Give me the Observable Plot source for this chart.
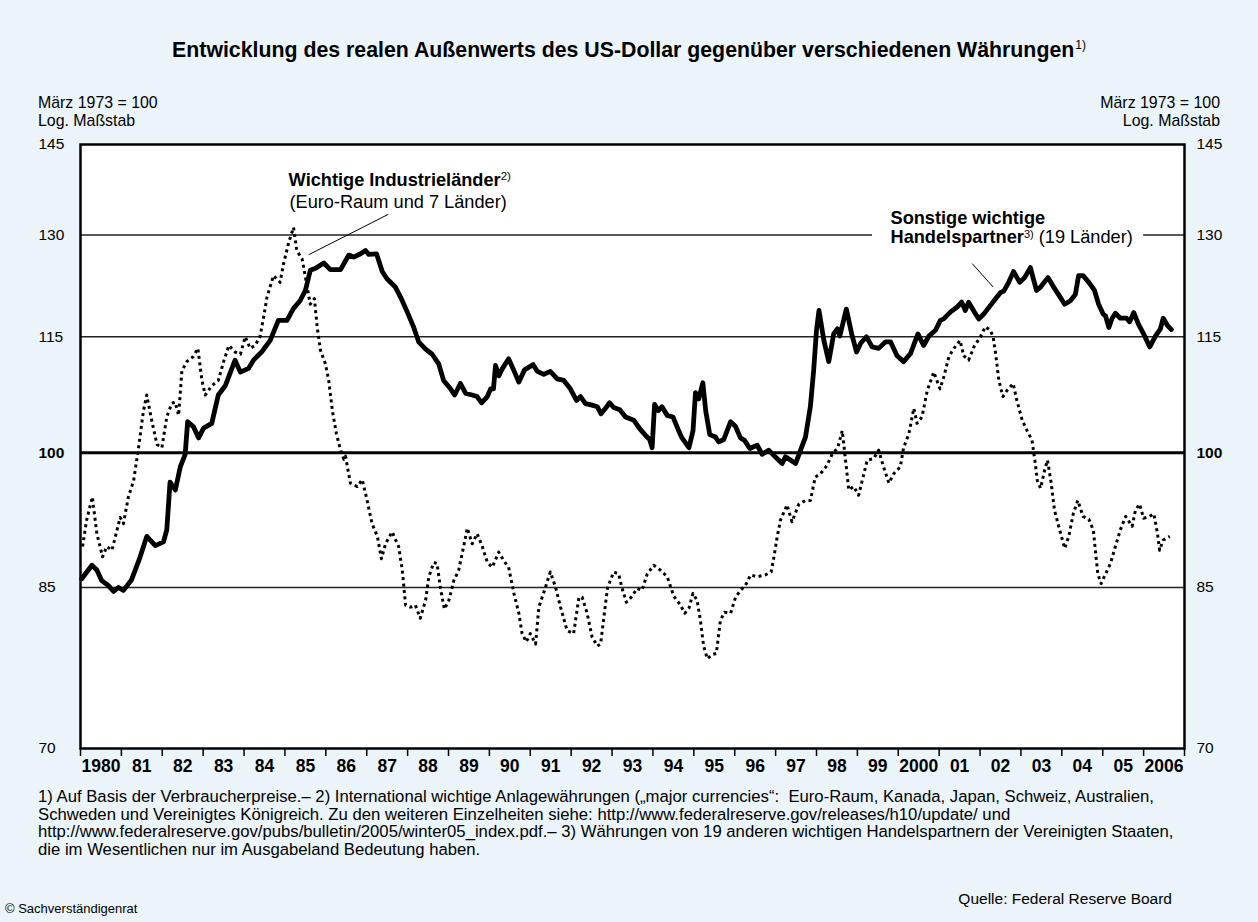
<!DOCTYPE html>
<html><head><meta charset="utf-8">
<script src="https://cdn.jsdelivr.net/npm/d3@7"></script>
<script src="https://cdn.jsdelivr.net/npm/@observablehq/plot@0.6"></script>
<style>
html,body{margin:0;padding:0;background:#EBF4F8;}
body{width:1258px;height:922px;position:relative;overflow:hidden;font-family:"Liberation Sans",Arial,Helvetica,sans-serif;color:#000;}
#title{position:absolute;left:0;width:1258px;top:37px;text-align:center;font-weight:bold;font-size:21.3px;line-height:26px;}
#title sup{font-size:12px;font-weight:normal;vertical-align:top;position:relative;top:-5px;margin-left:1px;}
.unit{position:absolute;top:94px;font-size:15.9px;line-height:18px;}
#unitL{left:38px;}
#unitR{right:38px;text-align:right;}
#chart{position:absolute;left:0;top:80px;}
#notes{position:absolute;left:38px;top:788px;width:1210px;font-size:16.7px;line-height:17.7px;white-space:nowrap;}
#source{position:absolute;right:86px;top:890px;font-size:15.5px;}
#copy{position:absolute;left:5px;top:901px;font-size:13px;}
</style></head>
<body>
<div id="title">Entwicklung des realen Außenwerts des US-Dollar gegenüber verschiedenen Währungen<sup>1)</sup></div>
<div class="unit" id="unitL">März 1973 = 100<br>Log. Maßstab</div>
<div class="unit" id="unitR">März 1973 = 100<br>Log. Maßstab</div>
<div id="chart"></div>
<div id="notes">1) Auf Basis der Verbraucherpreise.– 2) International wichtige Anlagewährungen („major currencies“:&nbsp; Euro-Raum, Kanada, Japan, Schweiz, Australien,<br>Schweden und Vereinigtes Königreich. Zu den weiteren Einzelheiten siehe: http://www.federalreserve.gov/releases/h10/update/ und<br>http://www.federalreserve.gov/pubs/bulletin/2005/winter05_index.pdf.– 3) Währungen von 19 anderen wichtigen Handelspartnern der Vereinigten Staaten,<br>die im Wesentlichen nur im Ausgabeland Bedeutung haben.</div>
<div id="source">Quelle: Federal Reserve Board</div>
<div id="copy">© Sachverständigenrat</div>
<script>
// y-axis tick values (log scale) and gridlines
const yTickValues = [145, 130, 115, 100, 85, 70];
const gridThin = [130, 115, 85];
const gridBold = [100];
// x-axis: year boundaries and labels
const yearTicks = d3.range(1980, 2008);
const yearLabels = ["1980","81","82","83","84","85","86","87","88","89","90","91","92","93","94","95","96","97","98","99","2000","01","02","03","04","05","2006"];

// Wichtige Industrieländer (dotted) [decimal year, index]
const industrieLaender = [
[1980.05,89.3],[1980.15,92.2],[1980.29,94.8],[1980.40,90.7],[1980.54,88.2],[1980.64,89.3],[1980.77,88.9],[1980.97,92.5],
[1981.05,91.8],[1981.17,94.8],[1981.30,96.7],[1981.42,100.6],[1981.54,105.2],[1981.62,107.2],[1981.74,104.0],[1981.87,101.0],[1981.99,100.6],
[1982.11,104.4],[1982.23,106.1],[1982.31,106.3],[1982.40,104.6],[1982.48,110.4],[1982.60,111.6],[1982.76,112.3],[1982.87,113.4],[1982.97,109.1],
[1983.05,107.2],[1983.21,108.4],[1983.37,109.1],[1983.50,111.6],[1983.63,113.8],[1983.78,112.9],[1983.91,112.6],
[1984.03,115.0],[1984.15,113.4],[1984.27,113.8],[1984.39,115.0],[1984.48,117.8],[1984.56,120.6],[1984.72,123.8],[1984.88,122.8],[1984.96,125.4],
[1985.09,128.8],[1985.21,131.2],[1985.29,127.6],[1985.42,126.3],[1985.50,123.6],[1985.62,119.6],[1985.72,120.4],[1985.79,116.3],[1985.87,113.1],[1985.99,111.3],
[1986.07,109.1],[1986.16,105.2],[1986.26,102.3],[1986.36,100.3],[1986.44,99.2],[1986.48,99.6],[1986.60,96.4],[1986.77,96.0],[1986.89,96.8],
[1987.01,94.4],[1987.13,91.8],[1987.26,90.4],[1987.36,88.0],[1987.46,89.6],[1987.62,90.9],[1987.78,89.3],[1987.87,86.8],[1987.95,83.2],
[1988.07,83.0],[1988.19,83.2],[1988.31,81.9],[1988.44,83.7],[1988.52,86.1],[1988.64,87.6],[1988.72,87.5],[1988.80,85.0],[1988.90,82.8],
[1989.01,83.7],[1989.13,85.7],[1989.25,86.8],[1989.37,89.3],[1989.46,91.3],[1989.58,89.6],[1989.70,90.7],[1989.82,89.4],[1989.95,87.6],
[1990.07,87.1],[1990.23,88.7],[1990.35,87.8],[1990.47,87.1],[1990.60,84.4],[1990.72,82.4],[1990.80,80.4],[1990.90,79.6],
[1991.00,80.4],[1991.13,79.4],[1991.21,83.0],[1991.37,85.0],[1991.49,86.6],[1991.62,85.0],[1991.74,83.0],[1991.90,80.7],
[1992.06,80.4],[1992.19,84.0],[1992.27,84.0],[1992.39,82.4],[1992.51,80.1],[1992.64,79.2],[1992.72,79.4],[1992.80,82.0],[1992.89,85.0],
[1993.04,86.6],[1993.16,86.4],[1993.24,85.0],[1993.35,83.5],[1993.49,84.1],[1993.61,84.9],[1993.73,84.7],[1993.86,86.4],
[1994.02,87.3],[1994.18,86.8],[1994.35,86.1],[1994.51,84.1],[1994.66,83.3],[1994.78,82.4],[1994.88,82.9],[1994.98,84.4],
[1995.08,83.7],[1995.16,81.7],[1995.24,79.2],[1995.33,78.0],[1995.45,78.4],[1995.55,78.5],[1995.65,81.7],[1995.75,82.5],[1995.90,82.4],
[1996.02,84.0],[1996.14,84.7],[1996.26,85.2],[1996.39,86.3],[1996.55,86.1],[1996.75,86.3],[1996.89,86.6],[1996.96,88.2],
[1997.04,90.4],[1997.12,92.2],[1997.28,93.9],[1997.40,92.0],[1997.57,94.0],[1997.73,94.4],[1997.85,94.4],[1997.97,97.1],
[1998.10,97.5],[1998.26,98.5],[1998.38,99.8],[1998.52,100.6],[1998.63,102.7],[1998.71,99.1],[1998.79,95.6],[1998.91,96.0],
[1999.03,95.0],[1999.16,97.5],[1999.24,99.1],[1999.40,99.3],[1999.52,100.3],[1999.64,98.3],[1999.77,96.4],[1999.89,97.5],
[2000.05,98.3],[2000.13,100.6],[2000.26,102.3],[2000.38,105.5],[2000.46,103.6],[2000.58,104.4],[2000.71,107.8],[2000.87,110.2],
[2001.02,108.0],[2001.11,109.5],[2001.24,112.3],[2001.36,113.4],[2001.51,114.5],[2001.60,112.4],[2001.72,111.8],[2001.85,113.6],
[2002.01,115.0],[2002.13,116.4],[2002.25,115.9],[2002.32,115.0],[2002.38,112.7],[2002.46,109.1],[2002.56,107.0],[2002.66,107.8],[2002.81,108.7],[2002.90,106.5],
[2003.03,104.0],[2003.15,102.7],[2003.27,101.5],[2003.34,99.1],[2003.40,96.7],[2003.48,95.8],[2003.58,97.9],[2003.65,99.1],[2003.74,96.4],[2003.82,93.3],[2003.93,91.4],
[2004.07,89.1],[2004.17,90.4],[2004.28,92.9],[2004.39,94.4],[2004.52,92.6],[2004.66,92.3],[2004.77,91.1],[2004.82,88.9],[2004.88,86.4],[2004.96,85.4],
[2005.07,86.4],[2005.19,87.5],[2005.31,89.3],[2005.43,91.1],[2005.56,92.6],[2005.72,91.5],[2005.80,93.3],[2005.90,94.0],
[2006.00,92.4],[2006.14,92.6],[2006.25,92.9],[2006.34,90.7],[2006.39,88.9],[2006.48,90.0],[2006.64,90.4]
];

// Sonstige wichtige Handelspartner (solid) [decimal year, index]
const handelspartner = [
[1980.03,85.9],[1980.28,87.3],[1980.40,86.8],[1980.52,85.7],[1980.68,85.2],[1980.81,84.6],[1980.93,85.0],
[1981.05,84.7],[1981.25,85.8],[1981.46,88.2],[1981.62,90.4],[1981.83,89.4],
[1982.03,89.8],[1982.11,91.1],[1982.19,96.5],[1982.32,95.6],[1982.44,98.3],[1982.56,99.8],[1982.62,103.8],[1982.76,103.2],[1982.89,101.8],
[1983.01,103.0],[1983.21,103.6],[1983.37,107.2],[1983.54,108.4],[1983.78,111.8],[1983.91,110.2],
[1984.11,110.7],[1984.23,111.8],[1984.43,112.9],[1984.64,114.5],[1984.84,117.3],
[1985.05,117.3],[1985.21,119.0],[1985.37,120.1],[1985.50,121.6],[1985.62,124.6],[1985.75,124.9],[1985.95,125.7],
[1986.11,124.7],[1986.36,124.7],[1986.56,126.9],[1986.68,126.6],[1986.85,127.1],[1986.97,127.6],
[1987.05,127.0],[1987.24,127.1],[1987.38,124.4],[1987.50,123.3],[1987.70,122.1],[1987.83,120.6],[1987.99,118.5],
[1988.15,116.3],[1988.27,114.3],[1988.44,113.3],[1988.60,112.6],[1988.76,111.3],[1988.88,109.1],
[1989.05,108.0],[1989.15,107.2],[1989.29,108.7],[1989.42,107.4],[1989.58,107.2],[1989.70,107.0],[1989.81,106.2],[1989.95,107.0],
[1990.03,108.0],[1990.10,108.0],[1990.15,111.1],[1990.23,109.7],[1990.31,110.6],[1990.47,112.0],[1990.60,110.4],[1990.72,108.9],[1990.86,110.5],
[1991.07,111.2],[1991.17,110.3],[1991.33,109.9],[1991.49,110.3],[1991.66,109.3],[1991.82,109.1],[1991.98,108.0],
[1992.13,106.5],[1992.23,107.0],[1992.35,106.1],[1992.51,105.9],[1992.64,105.7],[1992.73,104.8],[1992.84,105.5],[1992.94,106.2],
[1993.04,105.6],[1993.19,105.3],[1993.33,104.4],[1993.53,104.0],[1993.68,102.9],[1993.82,102.1],[1993.92,101.6],[1993.98,100.6],
[1994.04,106.0],[1994.13,105.2],[1994.22,105.7],[1994.35,104.6],[1994.49,104.4],[1994.61,102.9],[1994.71,101.8],[1994.88,100.6],[1994.98,102.7],
[1995.04,107.5],[1995.12,106.7],[1995.22,108.8],[1995.29,105.2],[1995.39,102.2],[1995.53,101.9],[1995.61,101.3],[1995.73,101.6],[1995.90,103.8],
[1996.02,103.2],[1996.14,101.8],[1996.24,101.5],[1996.37,100.5],[1996.55,100.9],[1996.67,99.8],[1996.83,100.3],[1996.99,99.5],
[1997.16,98.7],[1997.24,99.5],[1997.49,98.7],[1997.61,100.3],[1997.73,101.9],[1997.85,105.7],[1997.93,110.4],
[1998.00,115.9],[1998.06,118.7],[1998.18,114.5],[1998.30,111.6],[1998.42,115.4],[1998.51,116.1],[1998.57,115.1],[1998.73,118.9],[1998.86,115.4],[1998.98,112.9],
[1999.08,114.1],[1999.22,115.0],[1999.36,113.6],[1999.52,113.4],[1999.69,114.3],[1999.81,114.3],[1999.97,112.4],
[2000.13,111.6],[2000.30,112.7],[2000.48,115.4],[2000.62,113.8],[2000.75,115.1],[2000.91,115.9],
[2001.03,117.3],[2001.11,117.5],[2001.28,118.5],[2001.44,119.2],[2001.55,119.9],[2001.64,118.7],[2001.72,119.9],[2001.89,118.2],[2001.97,117.5],
[2002.09,118.2],[2002.25,119.4],[2002.38,120.4],[2002.50,121.3],[2002.58,121.5],[2002.70,122.8],[2002.82,124.4],[2002.97,122.8],
[2003.09,123.5],[2003.23,125.0],[2003.38,121.6],[2003.48,122.1],[2003.66,123.5],[2003.80,122.1],[2003.92,121.0],
[2004.07,119.6],[2004.21,120.1],[2004.33,121.0],[2004.41,123.8],[2004.52,123.8],[2004.66,122.8],[2004.80,121.6],[2004.90,119.6],
[2005.01,118.2],[2005.07,117.9],[2005.15,116.3],[2005.23,117.6],[2005.31,118.3],[2005.43,117.6],[2005.58,117.6],[2005.66,117.1],[2005.76,118.4],[2005.87,116.8],
[2006.00,115.4],[2006.15,113.6],[2006.29,115.1],[2006.41,116.1],[2006.48,117.6],[2006.58,116.6],[2006.68,116.0]
];

// annotation anchors (data coordinates)
const labelIndustrie = [{t:1985.09, v:138.9, text:"Wichtige Industrieländer"}];
const labelIndustrie2 = [{t:1985.11, v:135.2, text:"(Euro-Raum und 7 Länder)"}];
const labelHandel = [{t:1999.81, v:132.6, text:"Sonstige wichtige"},{t:1999.81, v:129.7, text:"Handelspartner"}];
const labelBox = [{t1:1999.37, t2:2006.0, v1:127.6, v2:134.2}];
const leaders = [{t1:1987.53, v1:133.3, t2:1985.58, v2:126.95},{t1:2001.81, v1:125.6, t2:2002.32, v2:122.1}];

const toObj = arr => arr.map(([t, v]) => ({t, v}));
const dotted = toObj(industrieLaender);
const solid = toObj(handelspartner);

const FONT = '"Liberation Sans", Arial, Helvetica, sans-serif';
const chart = Plot.plot({
  width: 1258, height: 710,
  marginLeft: 80, marginRight: 74, marginTop: 64, marginBottom: 42,
  style: {background: "transparent", fontFamily: FONT, color: "#000", overflow: "visible"},
  x: {domain: [1980, 2007], ticks: yearTicks, tickFormat: () => "", tickSize: 8, label: null},
  y: {type: "log", domain: [70, 145], axis: null},
  marks: [
    Plot.frame({fill: "white", stroke: null}),
    Plot.ruleY(gridThin, {stroke: "#222", strokeWidth: 1.6}),
    Plot.ruleY(gridBold, {stroke: "#000", strokeWidth: 3}),
    Plot.rect(labelBox, {x1: "t1", x2: "t2", y1: "v1", y2: "v2", fill: "white"}),
    Plot.line(dotted, {x: "t", y: "v", stroke: "#000", strokeWidth: 3, strokeDasharray: "3,3.5", strokeLinecap: "butt"}),
    Plot.line(solid, {x: "t", y: "v", stroke: "#000", strokeWidth: 4.8, strokeLinejoin: "round"}),
    Plot.link(leaders, {x1: "t1", y1: "v1", x2: "t2", y2: "v2", stroke: "#000", strokeWidth: 1}),
    Plot.text(labelIndustrie, {x: "t", y: "v", text: "text", textAnchor: "start", fontWeight: "bold", fontSize: 18.2}),
    Plot.text(labelIndustrie2, {x: "t", y: "v", text: "text", textAnchor: "start", fontSize: 18.2}),
    Plot.text(labelHandel, {x: "t", y: "v", text: "text", textAnchor: "start", fontWeight: "bold", fontSize: 18.2}),
    Plot.text(yTickValues.filter(d => d !== 100), {y: d => d, text: d => String(d), frameAnchor: "left", textAnchor: "start", dx: -42, fontSize: 15.5}),
    Plot.text(yTickValues.filter(d => d === 100), {y: d => d, text: d => String(d), frameAnchor: "left", textAnchor: "start", dx: -42, fontSize: 15.5, fontWeight: "bold"}),
    Plot.text(yTickValues.filter(d => d !== 100), {y: d => d, text: d => String(d), frameAnchor: "right", textAnchor: "start", dx: 12, fontSize: 15.5}),
    Plot.text(yTickValues.filter(d => d === 100), {y: d => d, text: d => String(d), frameAnchor: "right", textAnchor: "start", dx: 12, fontSize: 15.5, fontWeight: "bold"}),
    Plot.text(yearLabels, {x: (d, i) => 1980 + i + 0.5, text: d => d, frameAnchor: "bottom", dy: 23, fontWeight: "bold", fontSize: 17.5}),
    Plot.frame({stroke: "#000", strokeWidth: 2.5})
  ]
});
document.getElementById("chart").appendChild(chart);

// superscripts and mixed weights in annotations
const svg = d3.select(chart);
svg.selectAll("g[aria-label='x-axis tick'] path, g[aria-label='x-axis tick'] line").attr("stroke-width", 1.5);
svg.selectAll("text").each(function() {
  const s = d3.select(this);
  const txt = this.textContent;
  if (txt === "Wichtige Industrieländer") {
    s.append("tspan").attr("font-size", 11.5).attr("font-weight", "normal").attr("dy", -6).text("2)");
  } else if (txt === "Handelspartner") {
    s.append("tspan").attr("font-size", 11).attr("font-weight", "normal").attr("dy", -5).text("3)");
    s.append("tspan").attr("font-weight", "normal").attr("dy", 5).text(" (19 Länder)");
  }
});
</script>
</body></html>
